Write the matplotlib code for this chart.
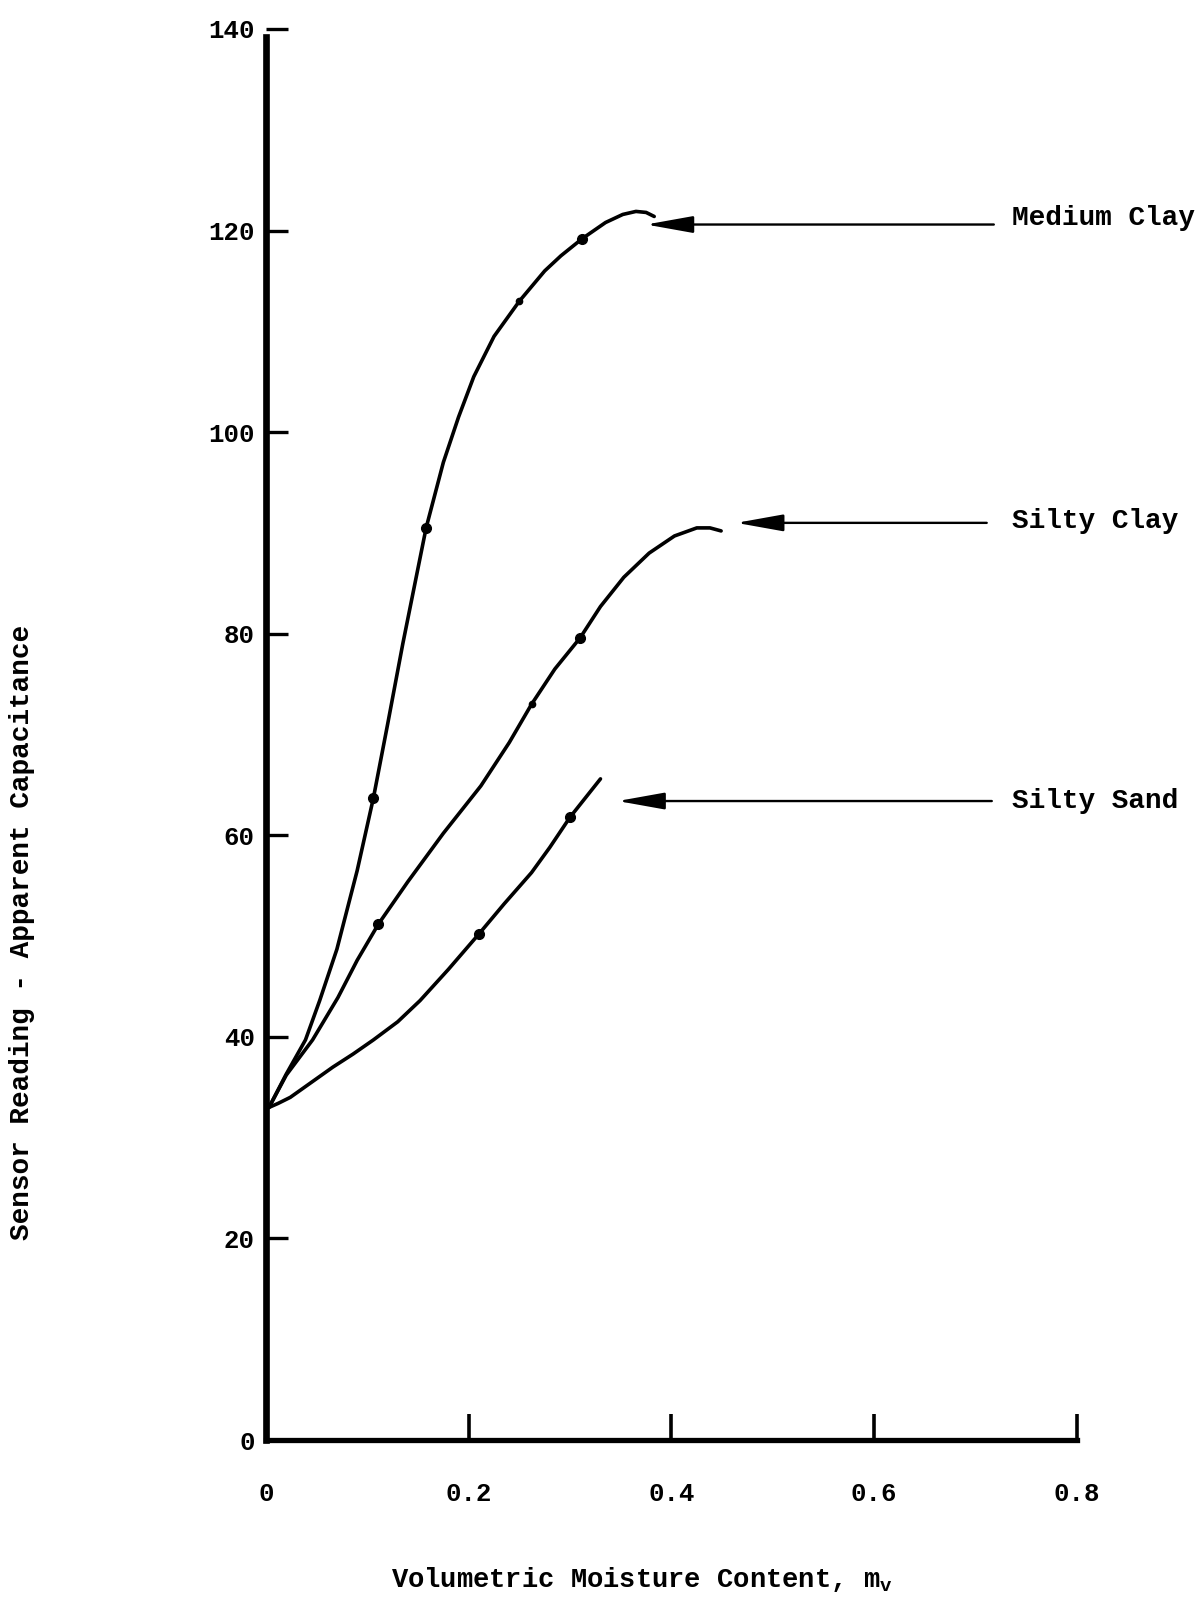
import numpy as np
import matplotlib
matplotlib.use('Agg')
import matplotlib.pyplot as plt

# ---------------- datos ----------------
# Medium Clay
mc_x = [0.003, 0.02, 0.039, 0.053, 0.07, 0.09, 0.106, 0.12, 0.135, 0.158, 0.175,
        0.19, 0.205, 0.225, 0.25, 0.275, 0.291, 0.312, 0.335, 0.352, 0.365, 0.375, 0.383]
mc_y = [33, 36.3, 39.7, 43.6, 48.7, 56.5, 63.7, 71, 79, 90.5, 97,
        101.5, 105.5, 109.5, 113, 116, 117.5, 119.2, 120.8, 121.6, 121.9, 121.8, 121.4]
mc_pts_x = [0.106, 0.158, 0.312]
mc_pts_y = [63.7, 90.5, 119.2]
mc_small_x = [0.25]
mc_small_y = [113]

# Silty Clay
sc_x = [0.003, 0.02, 0.046, 0.071, 0.09, 0.111, 0.14, 0.175, 0.212, 0.24, 0.262,
        0.285, 0.31, 0.33, 0.353, 0.378, 0.403, 0.425, 0.438, 0.449]
sc_y = [33, 36.2, 39.7, 43.9, 47.6, 51.2, 55.4, 60.2, 64.9, 69.2, 73,
        76.5, 79.6, 82.7, 85.6, 88, 89.7, 90.5, 90.5, 90.2]
sc_pts_x = [0.111, 0.31]
sc_pts_y = [51.2, 79.6]
sc_small_x = [0.262]
sc_small_y = [73]

# Silty Sand
ss_x = [0.003, 0.012, 0.024, 0.045, 0.066, 0.086, 0.106, 0.13, 0.152, 0.18, 0.21,
        0.235, 0.262, 0.28, 0.30, 0.33]
ss_y = [33, 33.4, 34, 35.5, 37, 38.3, 39.7, 41.5, 43.6, 46.7, 50.2,
        53.2, 56.3, 58.8, 61.8, 65.6]
ss_pts_x = [0.21, 0.30]
ss_pts_y = [50.2, 61.8]

labels = ['Medium Clay', 'Silty Clay', 'Silty Sand']
label_y = [121.2, 91.2, 63.4]
arrow_tip = [0.375, 0.464, 0.347]
arrow_tail = [0.718, 0.711, 0.716]
arrow_y = [120.6, 91.0, 63.4]

x_ticks = [0, 0.2, 0.4, 0.6, 0.8]
x_tick_labels = ['0', '0.2', '0.4', '0.6', '0.8']
y_ticks = [0, 20, 40, 60, 80, 100, 120, 140]

plt.rcParams['font.family'] = ['Liberation Mono', 'DejaVu Sans']
plt.rcParams['font.weight'] = 'bold'
plt.rcParams['mathtext.fontset'] = 'custom'
plt.rcParams['mathtext.rm'] = 'Liberation Mono:bold'

fig = plt.figure(figsize=(11.99, 16.02), dpi=100)
ax = fig.add_axes([0.2218, 0.1011, 0.6764, 0.8808])

for xs, ys, px, py in [(mc_x, mc_y, mc_pts_x, mc_pts_y),
                       (sc_x, sc_y, sc_pts_x, sc_pts_y),
                       (ss_x, ss_y, ss_pts_x, ss_pts_y)]:
    ax.plot(xs, ys, color='black', lw=2.6, solid_capstyle='round', solid_joinstyle='round')
    ax.plot(px, py, 'o', color='black', ms=7)

# marcas pequeñas sobre las curvas
ax.plot(mc_small_x + sc_small_x, mc_small_y + sc_small_y, 'o', color='black', ms=4.5)

# flechas y nombres de los suelos
for i in range(len(labels)):
    ax.annotate('', xy=(arrow_tip[i], arrow_y[i]), xytext=(arrow_tail[i], arrow_y[i]),
                arrowprops=dict(arrowstyle='-|>,head_length=1.45,head_width=0.26',
                                color='black', lw=1.7, mutation_scale=20,
                                shrinkA=0, shrinkB=0),
                annotation_clip=False)
    ax.text(0.736, label_y[i], labels[i], fontsize=20, va='center', ha='left',
            clip_on=False)

ax.set_xlim(0, 0.8)
ax.set_ylim(0, 140)
ax.spines['top'].set_visible(False)
ax.spines['right'].set_visible(False)
ax.spines['left'].set_linewidth(4.8)
ax.spines['bottom'].set_linewidth(3.8)
ax.spines['left'].set_bounds(0, 139.2)

ax.set_xticks(x_ticks)
ax.set_xticklabels(x_tick_labels)
ax.set_yticks(y_ticks)
ax.tick_params(axis='x', direction='in', length=19, width=2.6, pad=30, labelsize=18.5)
ax.tick_params(axis='y', direction='in', length=16, width=2.4, pad=8, labelsize=18.5)

fig.text(642 / 1199, 1 - 1579 / 1602, r'Volumetric Moisture Content, m$_{\mathrm{v}}$',
         fontsize=19.5, ha='center', va='center')
fig.text(22 / 1199, 1 - 932 / 1602, 'Sensor Reading - Apparent Capacitance',
         fontsize=20, ha='center', va='center', rotation=90)

fig.savefig('out.png', dpi=100)
